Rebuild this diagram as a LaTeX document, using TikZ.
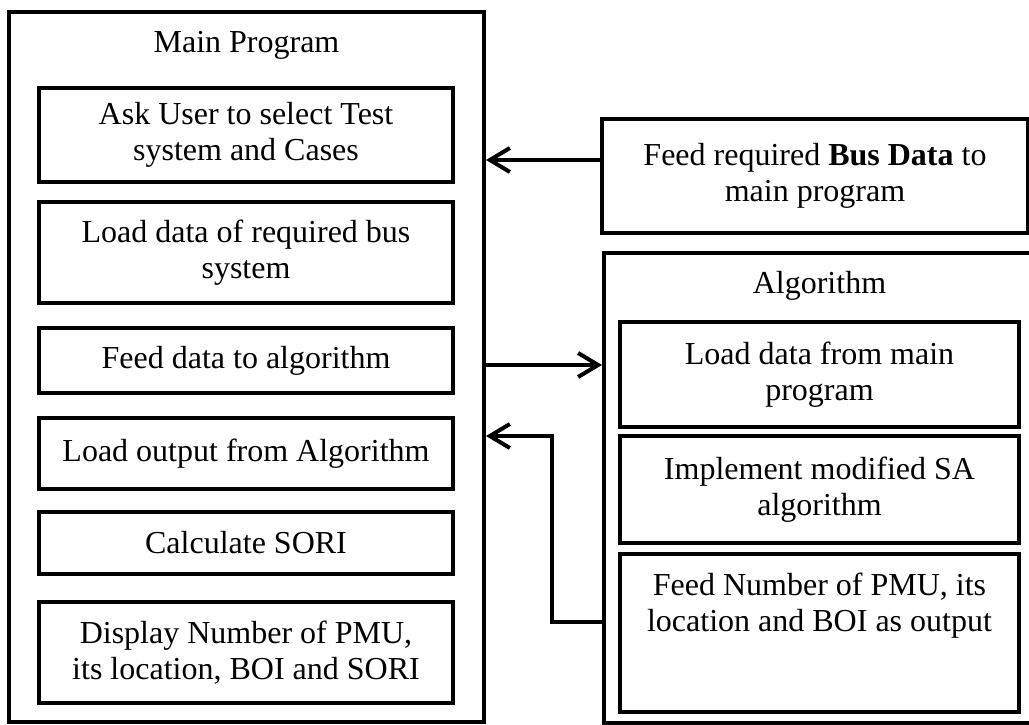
\documentclass[tikz,border=0pt]{standalone}
\usepackage{fontspec}
\setmainfont{Liberation Serif}
\usetikzlibrary{arrows.meta}

\tikzset{
  frame/.style={draw, line width=4pt, inner sep=0pt},
  stage/.style={draw, line width=4pt, inner sep=0pt, align=center,
    minimum width=414pt, font=\fontsize{32}{36}\selectfont},
  heading/.style={inner sep=0pt, align=center, font=\fontsize{32}{36}\selectfont},
  flow/.style={line width=4pt, ->}
}

\begin{document}
\begin{tikzpicture}[x=1pt, y=-1pt, >={Straight Barb[length=20pt,width=24pt]}]
	\useasboundingbox (0,0) rectangle (1029,725);
	\clip (0,0) rectangle (1029,725);
	
	% main program
	\node[frame, minimum width=475pt, minimum height=710pt] (main) at (246.5,367) {};
	\node[heading] (maintitle) at (246.5,45) {Main Program};
	
	\node[stage, minimum height=94pt] (ask) at (246,135) {Ask User to select Test\\system and Cases};
	\node[stage, minimum height=101pt] (loaddata) at (246,252.5) {Load data of required bus\\system};
	\node[stage, minimum height=65pt] (feed) at (246,360.5) {Feed data to algorithm};
	\node[stage, minimum height=71pt] (loadout) at (246,453.5) {Load output from Algorithm};
	\node[stage, minimum height=62pt] (sori) at (246,543) {Calculate SORI};
	\node[stage, minimum height=101pt] (display) at (246,652.5) {Display Number of PMU,\\its location, BOI and SORI};
	
	% bus data
	\node[stage, minimum width=426pt, minimum height=114pt] (bus) at (815,176) {Feed required \textbf{Bus Data} to\\main program};
	
	% algorithm
	\node[frame, minimum width=430pt, minimum height=470pt] (algo) at (819,488) {};
	\node[heading] (algotitle) at (819.5,286) {Algorithm};
	
	\node[stage, minimum width=399pt, minimum height=105pt] (loadmain) at (819.5,374.5) {Load data from main\\program};
	\node[stage, minimum width=399pt, minimum height=107pt] (implement) at (819.5,489.5) {Implement modified SA\\algorithm};
	\node[stage, minimum width=399pt, minimum height=158pt] (result) at (819.5,633) {};
	\node[heading] (resulttext) at (819.5,606) {Feed Number of PMU, its\\location and BOI as output};
	
	% connections
	\coordinate (busout) at ([yshift=16pt]bus.west);
	\coordinate (feedout) at ([yshift=-4.5pt]feed.east);
	\coordinate (resout) at ([yshift=11pt]result.west);
	\coordinate (resin) at ([yshift=17.5pt]loadout.east);
	
	\draw[flow] (busout) -- (busout -| main.east);
	\draw[flow] (feedout -| main.east) -- (feedout -| algo.west);
	\draw[flow] (resout -| algo.west) -- ++(-50,0) |- (resin -| main.east);
	
\end{tikzpicture}
\end{document}
